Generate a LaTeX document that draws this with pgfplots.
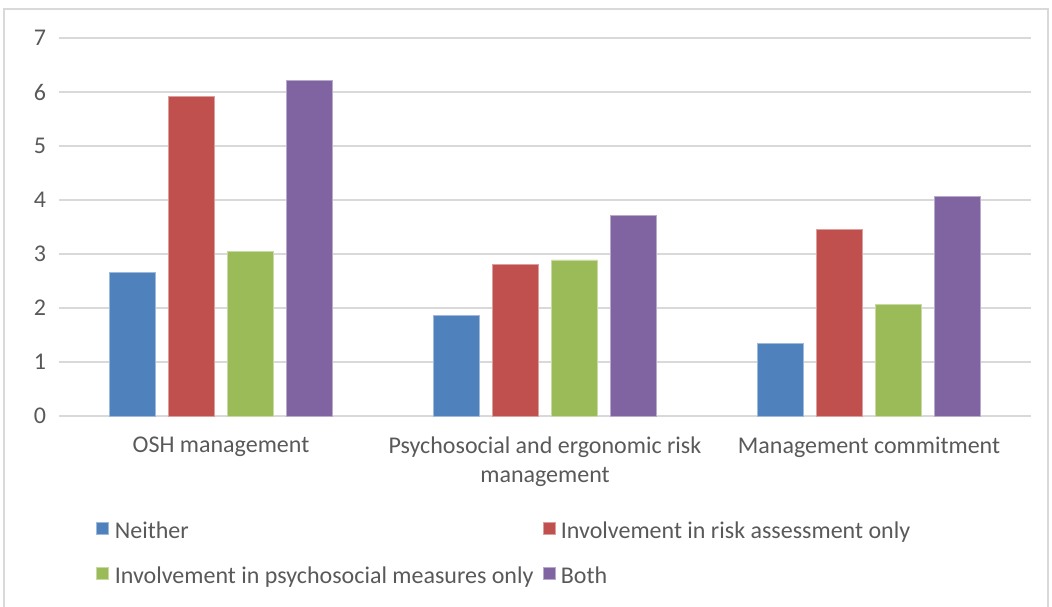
\documentclass[border=0pt]{standalone}
\usepackage{fontspec}
\setmainfont{Carlito}
\usepackage{pgfplots}
\pgfplotsset{compat=1.18}
\definecolor{cBlue}{HTML}{4F81BD}
\definecolor{cRed}{HTML}{C0504D}
\definecolor{cGreen}{HTML}{9BBB59}
\definecolor{cPurple}{HTML}{8064A2}
\definecolor{gridc}{HTML}{D9D9D9}
\definecolor{txt}{HTML}{595959}
\begin{document}
\begin{tikzpicture}
\useasboundingbox (-29.5pt,-95pt) rectangle (496.5pt,208pt);
\draw[gridc, line width=0.6pt] (-27.5pt,-110pt) -- (-27.5pt,203.5pt) -- (494.5pt,203.5pt) -- (494.5pt,-110pt);
\begin{axis}[
  at={(0,0)}, anchor=south west,
  scale only axis, width=486pt, height=189pt,
  ybar=6.5pt, bar width=23pt,
  xmin=-0.5, xmax=2.5, ymin=0, ymax=7,
  xtick={0,1,2},
  xticklabels={OSH management, {Psychosocial and ergonomic risk\\management}, Management commitment},
  ytick={0,1,2,3,4,5,6,7},
  ymajorgrids, grid style={gridc, line width=1pt},
  axis line style={draw=none},
  tick style={draw=none}, major tick length=0pt,
  /pgf/number format/assume math mode=true,
  ticklabel style={font=\fontsize{12}{14.5}\selectfont, text=txt},
  yticklabel style={xshift=-3pt},
  xticklabel style={align=center, yshift=-7pt},
  legend columns=2,
  legend style={draw=none, fill=none, at={(0.0381,-0.276)}, anchor=north west,
    inner sep=0pt, row sep=10.5pt,
    nodes={inner sep=0pt, text height=9pt, text depth=3pt, font=\fontsize{12}{14.5}\selectfont, text=txt},
    /tikz/every odd column/.append style={column sep=2.8pt},
    /tikz/every even column/.append style={column sep=4.5pt},
    cells={anchor=west}},
  legend image code/.code={\fill[#1] (0pt,-1pt) rectangle (6pt,5pt);},
]
\addplot[fill=cBlue, draw=cBlue!55!white, line width=0.4pt] coordinates {(0,2.66) (1,1.87) (2,1.35)};
\addplot[fill=cRed, draw=cRed!55!white, line width=0.4pt] coordinates {(0,5.91) (1,2.80) (2,3.46)};
\addplot[fill=cGreen, draw=cGreen!55!white, line width=0.4pt] coordinates {(0,3.04) (1,2.89) (2,2.06)};
\addplot[fill=cPurple, draw=cPurple!55!white, line width=0.4pt] coordinates {(0,6.22) (1,3.72) (2,4.07)};
\legend{Neither, Involvement in risk assessment only, Involvement in psychosocial measures only, Both}
\end{axis}
\end{tikzpicture}
\end{document}
